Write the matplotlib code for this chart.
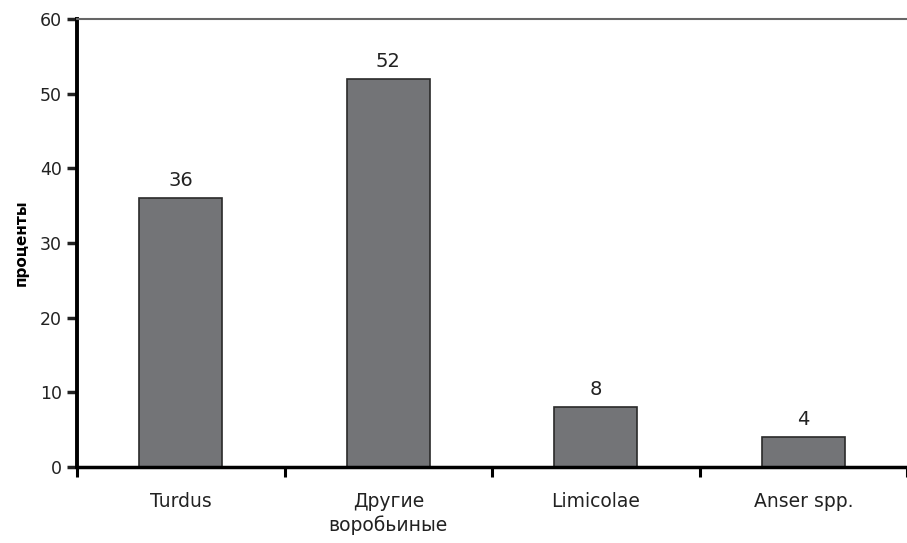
import matplotlib.pyplot as plt
import numpy as np

categories = ["Turdus", "Другие\nворобьиные", "Limicolae", "Anser spp."]
values = [36, 52, 8, 4]
yticks = [0, 10, 20, 30, 40, 50, 60]

plt.rcParams['font.family'] = ['DejaVu Sans']

fig = plt.figure(figsize=(9.07, 5.43), dpi=100)
ax = fig.add_axes([77 / 907, 76 / 543, 830 / 907, 448 / 543])

x = np.arange(len(categories))
ax.bar(x, values, width=0.4, color="#737477", edgecolor="#2a2a2a", linewidth=1.2, zorder=2)

for xi, v in zip(x, values):
    ax.text(xi, v + 1.1, str(v), ha="center", va="bottom", fontsize=14, color="#222222")

ax.set_xlim(-0.5, -0.5 + 830 / 209)
ax.set_ylim(0, 60)
ax.set_yticks(yticks)
ax.tick_params(axis="y", direction="out", length=7, width=2.5, labelsize=12.5, colors="#222222", pad=4)

# category labels in the middle, ticks on the boundaries
ax.set_xticks(x)
ax.set_xticklabels(categories, fontsize=13.5, color="#222222", linespacing=1.3)
ax.tick_params(axis="x", which="major", length=0, pad=18)
ax.set_xticks(np.arange(len(categories) + 1) - 0.5, minor=True)
ax.tick_params(axis="x", which="minor", direction="out", length=7, width=2.2)

ax.spines["left"].set_linewidth(2.8)
ax.spines["bottom"].set_linewidth(2.5)
ax.spines["top"].set_linewidth(1.5)
ax.spines["top"].set_color("#666666")
ax.spines["right"].set_visible(False)

ax.set_ylabel("проценты", fontsize=11, fontweight="bold", labelpad=8)

fig.savefig("out.png", dpi=100)
